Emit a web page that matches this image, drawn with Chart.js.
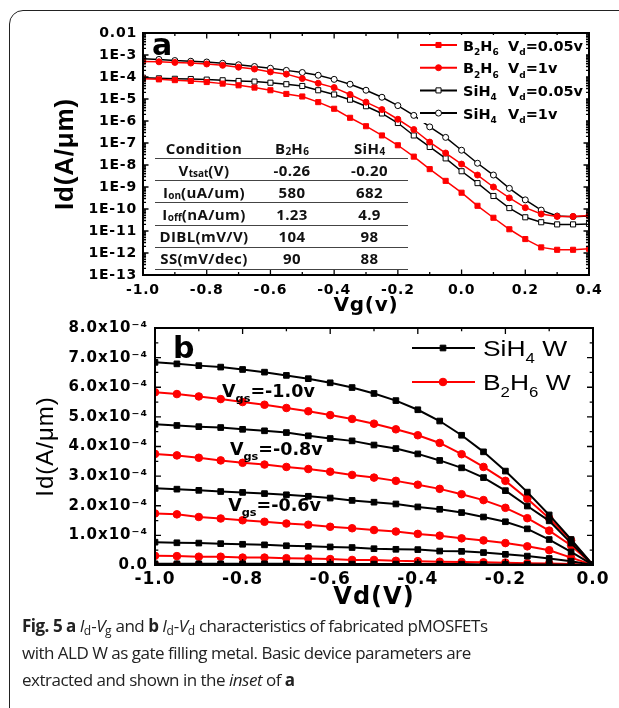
<!DOCTYPE html>
<html>
<head>
<meta charset="utf-8">
<script src="https://cdn.jsdelivr.net/npm/chart.js@4.4.0/dist/chart.umd.min.js"></script>
<style>
    html, body { margin: 0; padding: 0; background: #fff; }
    body { width: 619px; height: 708px; position: relative; overflow: hidden; }
    #marco { position: absolute; left: 9px; top: 10px; width: 700px; height: 800px; border: 1.5px solid #222; border-radius: 14px; }
    canvas { position: absolute; left: 0; }
    #graficoA { top: 0; }
    #graficoB { top: 312px; }
    #tabla { position: absolute; left: 155px; top: 138px; border-collapse: collapse; font-family: "Open Sans"; font-weight: 700; font-size: 15px; letter-spacing: 0.4px; color: #111; }
    #tabla td { padding: 0; height: 21.2px; text-align: center; border-bottom: 1.5px solid #444; line-height: 20px; }
    #tabla tr:first-child td { height: 19.5px; }
    #tabla td.c1 { width: 98px; }
    #tabla td.c2 { width: 78px; }
    #tabla td.c3 { width: 77px; }
    #tabla sub { font-size: 10px; vertical-align: -1px; letter-spacing: 0; line-height: 0; }
    #pie { position: absolute; left: 22px; top: 612px; font-family: "Open Sans"; font-size: 17px; letter-spacing: -0.5px; line-height: 27px; color: #222; white-space: nowrap; }
    #pie sub { font-size: 12px; vertical-align: -3px; line-height: 0; letter-spacing: 0; }
</style>
</head>
<body>
<div id="marco"></div>
<canvas id="graficoA" width="619" height="320"></canvas>
<canvas id="graficoB" width="619" height="303"></canvas>

<table id="tabla">
    <tr><td class="c1">Condition</td><td class="c2">B<sub>2</sub>H<sub>6</sub></td><td class="c3">SiH<sub>4</sub></td></tr>
    <tr><td class="c1">V<sub>tsat</sub>(V)</td><td class="c2">-0.26</td><td class="c3">-0.20</td></tr>
    <tr><td class="c1">I<sub>on</sub>(uA/um)</td><td class="c2">580</td><td class="c3">682</td></tr>
    <tr><td class="c1">I<sub>off</sub>(nA/um)</td><td class="c2">1.23</td><td class="c3">4.9</td></tr>
    <tr><td class="c1">DIBL(mV/V)</td><td class="c2">104</td><td class="c3">98</td></tr>
    <tr><td class="c1">SS(mV/dec)</td><td class="c2">90</td><td class="c3">88</td></tr>
</table>

<div id="pie"><b>Fig. 5</b> <b>a</b> <i>I</i><sub>d</sub>-<i>V</i><sub>g</sub> and <b>b</b> <i>I</i><sub>d</sub>-<i>V</i><sub>d</sub> characteristics of fabricated pMOSFETs<br>with ALD W as gate filling metal. Basic device parameters are<br>extracted and shown in the <i>inset</i> of <b>a</b></div>

<script>
// ---- Datos del grafico a: Id-Vg (A/um, escala log) ----
const vg = [-1.0, -0.95, -0.9, -0.85, -0.8, -0.75, -0.7, -0.65, -0.6, -0.55, -0.5, -0.45, -0.4, -0.35, -0.3,
    -0.25, -0.2, -0.15, -0.1, -0.05, 0.0, 0.05, 0.1, 0.15, 0.2, 0.25, 0.3, 0.35, 0.4];
const idB2H6Vd005 = [8.3e-5, 7.8e-5, 7.2e-5, 6.6e-5, 5.9e-5, 5.0e-5, 4.2e-5, 3.3e-5, 2.5e-5, 1.7e-5, 1.3e-5,
    7.2e-6, 3.6e-6, 1.4e-6, 5.8e-7, 2.2e-7, 7.9e-8, 2.4e-8, 6.5e-9, 1.9e-9, 5.5e-10, 1.4e-10, 4.0e-11,
    1.2e-11, 4.3e-12, 1.8e-12, 1.4e-12, 1.4e-12, 1.55e-12];
const idB2H6Vd1 = [5.1e-4, 4.9e-4, 4.6e-4, 4.3e-4, 3.9e-4, 3.4e-4, 2.8e-4, 2.3e-4, 1.7e-4, 1.35e-4, 8.5e-5,
    5.2e-5, 3.3e-5, 1.6e-5, 7.2e-6, 3.3e-6, 1.2e-6, 4.1e-7, 1.1e-7, 3.5e-8, 1.1e-8, 3.5e-9, 1.0e-9,
    3.2e-10, 1.15e-10, 5.9e-11, 4.6e-11, 4.6e-11, 5.1e-11];
const idSiH4Vd005 = [9.3e-5, 8.7e-5, 8.3e-5, 8.1e-5, 7.6e-5, 7.1e-5, 6.6e-5, 6.2e-5, 5.5e-5, 4.7e-5, 3.9e-5,
    2.5e-5, 1.6e-5, 9.3e-6, 4.7e-6, 2.2e-6, 8.1e-7, 2.2e-7, 6.6e-8, 2.0e-8, 5.2e-9, 1.5e-9, 3.9e-10,
    1.1e-10, 4.2e-11, 2.5e-11, 2.0e-11, 2.0e-11, 2.1e-11];
const idSiH4Vd1 = [6.8e-4, 6.3e-4, 5.6e-4, 5.2e-4, 4.8e-4, 4.2e-4, 3.6e-4, 3.0e-4, 2.5e-4, 2.0e-4, 1.6e-4,
    1.2e-4, 7.8e-5, 4.7e-5, 2.5e-5, 1.2e-5, 5.0e-6, 1.8e-6, 5.4e-7, 1.8e-7, 4.7e-8, 1.2e-8, 3.5e-9,
    8.7e-10, 2.6e-10, 8.9e-11, 4.8e-11, 4.5e-11, 4.8e-11];
const vgTicks = [-1.0, -0.8, -0.6, -0.4, -0.2, 0.0, 0.2, 0.4];
const vgTickLabels = ['-1.0', '-0.8', '-0.6', '-0.4', '-0.2', '0.0', '0.2', '0.4'];
const idTicksA = [1e-2, 1e-3, 1e-4, 1e-5, 1e-6, 1e-7, 1e-8, 1e-9, 1e-10, 1e-11, 1e-12, 1e-13];
const idTickLabelsA = ['0.01', '1E-3', '1E-4', '1E-5', '1E-6', '1E-7', '1E-8', '1E-9', '1E-10', '1E-11', '1E-12', '1E-13'];

// ---- Datos del grafico b: Id-Vd (en unidades de 1e-4 A/um) ----
const vd = [-1.0, -0.95, -0.9, -0.85, -0.8, -0.75, -0.7, -0.65, -0.6, -0.55, -0.5, -0.45, -0.4, -0.35, -0.3,
    -0.25, -0.2, -0.15, -0.1, -0.05, 0.0];
const sih4Vgs10 = [6.84, 6.79, 6.73, 6.68, 6.60, 6.51, 6.40, 6.29, 6.15, 5.99, 5.79, 5.55, 5.24, 4.86, 4.38, 3.82, 3.17, 2.46, 1.69, 0.86, 0];
const sih4Vgs08 = [4.75, 4.71, 4.67, 4.64, 4.58, 4.53, 4.47, 4.36, 4.27, 4.19, 4.05, 3.93, 3.75, 3.53, 3.28, 2.95, 2.51, 1.99, 1.49, 0.74, 0];
const sih4Vgs06 = [2.59, 2.56, 2.52, 2.48, 2.45, 2.41, 2.37, 2.32, 2.26, 2.18, 2.12, 2.06, 1.96, 1.88, 1.77, 1.62, 1.46, 1.22, 0.86, 0.44, 0];
const sih4Vgs04 = [0.77, 0.75, 0.74, 0.72, 0.70, 0.68, 0.65, 0.63, 0.61, 0.59, 0.55, 0.53, 0.52, 0.47, 0.46, 0.42, 0.36, 0.30, 0.22, 0.13, 0];
const sih4Vgs02 = [0.04, 0.04, 0.04, 0.04, 0.04, 0.04, 0.04, 0.03, 0.03, 0.03, 0.03, 0.03, 0.03, 0.03, 0.03, 0.02, 0.02, 0.02, 0.02, 0.01, 0];
const b2h6Vgs10 = [5.83, 5.77, 5.69, 5.60, 5.50, 5.41, 5.30, 5.19, 5.06, 4.93, 4.77, 4.58, 4.38, 4.12, 3.74, 3.31, 2.84, 2.24, 1.58, 0.83, 0];
const b2h6Vgs08 = [3.75, 3.70, 3.62, 3.53, 3.45, 3.39, 3.31, 3.24, 3.15, 3.04, 2.95, 2.84, 2.71, 2.57, 2.39, 2.19, 1.93, 1.58, 1.16, 0.66, 0];
const b2h6Vgs06 = [1.74, 1.71, 1.62, 1.57, 1.51, 1.46, 1.40, 1.36, 1.29, 1.24, 1.18, 1.13, 1.05, 0.99, 0.90, 0.83, 0.74, 0.63, 0.50, 0.25, 0];
const b2h6Vgs04 = [0.31, 0.30, 0.28, 0.28, 0.25, 0.25, 0.23, 0.22, 0.20, 0.17, 0.17, 0.14, 0.13, 0.11, 0.10, 0.09, 0.08, 0.06, 0.05, 0.03, 0];
const b2h6Vgs02 = [0.01, 0.01, 0.01, 0.01, 0.01, 0.01, 0.01, 0.01, 0.01, 0.01, 0.01, 0.01, 0.01, 0.01, 0.01, 0.01, 0.01, 0.01, 0.01, 0.005, 0];
const vdTicks = [-1.0, -0.8, -0.6, -0.4, -0.2, 0.0];
const vdTickLabels = ['-1.0', '-0.8', '-0.6', '-0.4', '-0.2', '0.0'];
const idTicksB = [0, 1, 2, 3, 4, 5, 6, 7, 8];
const idTickLabelsB = ['0.0', '1.0x10⁻⁴', '2.0x10⁻⁴', '3.0x10⁻⁴', '4.0x10⁻⁴', '5.0x10⁻⁴', '6.0x10⁻⁴', '7.0x10⁻⁴', '8.0x10⁻⁴'];
// etiquetas Vgs dentro del grafico b (posicion en unidades de datos)
const etiquetasVgs = [
    { texto: '=-1.0v', x: -0.847, y: 5.66 },
    { texto: '=-0.8v', x: -0.829, y: 3.70 },
    { texto: '=-0.6v', x: -0.833, y: 1.81 }
];

const ROJO = '#ff0000';
const NEGRO = '#000000';
const FUENTE = '"DejaVu Sans"';

Chart.defaults.font.family = FUENTE;
Chart.defaults.color = '#000';

function serie(xs, ys) {
    return xs.map((x, i) => ({ x: x, y: ys[i] }));
}

// Dibuja texto con subindices: partes = [[texto, 'sub'?], ...]
// estira: factor horizontal (las letras del original son anchas)
function textoRico(ctx, partes, x, y, tam, peso, familia, estira) {
    const sx = estira || 1;
    let cx = 0;
    ctx.save();
    ctx.translate(x, y);
    ctx.scale(sx, 1);
    ctx.textAlign = 'left';
    ctx.textBaseline = 'alphabetic';
    ctx.letterSpacing = '0px';
    for (const [t, tipo] of partes) {
        const sub = tipo === 'sub';
        const fs = sub ? Math.round(tam * 0.62) : tam;
        ctx.font = peso + ' ' + fs + 'px ' + (familia || FUENTE);
        ctx.fillText(t, cx, sub ? tam * 0.3 : 0);
        cx += ctx.measureText(t).width;
    }
    ctx.restore();
    return x + cx * sx;
}

function marcador(ctx, ds, x, y) {
    ctx.fillStyle = ds.pointBackgroundColor;
    ctx.strokeStyle = ds.borderColor;
    ctx.lineWidth = ds.pointBorderWidth;
    Chart.helpers.drawPoint(ctx, {
        pointStyle: ds.pointStyle, radius: ds.pointRadius, rotation: 0, borderWidth: ds.pointBorderWidth
    }, x, y);
}

// Letras algo espaciadas en ejes, como en la figura original
const espaciado = {
    id: 'espaciado',
    beforeDraw(chart, args, o) { chart.ctx.letterSpacing = o.valor; },
    beforeDatasetsDraw(chart) { chart.ctx.letterSpacing = '0px'; },
    afterDraw(chart) { chart.ctx.letterSpacing = '0px'; }
};

// Marco del area y marcas hacia dentro en los cuatro lados
const marcoTicks = {
    id: 'marcoTicks',
    afterDatasetsDraw(chart, args, o) {
        const { ctx, chartArea: a, scales } = chart;
        ctx.save();
        ctx.strokeStyle = '#000';
        ctx.lineWidth = 1.3;
        const grupos = [[o.xMayor, o.largo], [o.xMenor, o.largo * 0.55]];
        for (const [lista, len] of grupos) {
            for (const v of lista) {
                const px = scales.x.getPixelForValue(v);
                ctx.beginPath();
                ctx.moveTo(px, a.bottom); ctx.lineTo(px, a.bottom - len);
                ctx.moveTo(px, a.top); ctx.lineTo(px, a.top + len);
                ctx.stroke();
            }
        }
        const gruposY = [[o.yMayor, o.largo], [o.yMenor, o.largo * 0.55]];
        for (const [lista, len] of gruposY) {
            for (const v of lista) {
                const py = scales.y.getPixelForValue(v);
                ctx.beginPath();
                ctx.moveTo(a.left, py); ctx.lineTo(a.left + len, py);
                ctx.moveTo(a.right, py); ctx.lineTo(a.right - len, py);
                ctx.stroke();
            }
        }
        ctx.lineWidth = o.grosor;
        ctx.strokeRect(a.left, a.top, a.right - a.left, a.bottom - a.top);
        // letra del panel
        ctx.fillStyle = '#000';
        ctx.font = 'bold ' + o.letraTam + 'px ' + FUENTE;
        ctx.textAlign = 'left';
        ctx.textBaseline = 'alphabetic';
        ctx.fillText(o.letra, a.left + o.letraX, a.top + o.letraY);
        ctx.restore();
    }
};

// Leyenda del grafico a con subindices
const leyendaA = {
    id: 'leyendaA',
    afterDatasetsDraw(chart) {
        const ctx = chart.ctx;
        ctx.save();
        ctx.fillStyle = '#fff';
        ctx.fillRect(418, 35, 168, 88);
        chart.data.datasets.forEach((ds, i) => {
            const y = 45 + i * 22.7;
            ctx.strokeStyle = ds.borderColor;
            ctx.lineWidth = 2;
            ctx.beginPath();
            ctx.moveTo(420, y); ctx.lineTo(457, y);
            ctx.stroke();
            marcador(ctx, ds, 438.5, y);
            ctx.fillStyle = '#000';
            textoRico(ctx, ds.leyendaGas, 463, y + 5.5, 14.5, 'bold');
            textoRico(ctx, ds.leyendaVd, 508, y + 5.5, 14.5, 'bold');
        });
        ctx.restore();
    }
};

// Leyenda y etiquetas Vgs del grafico b
const leyendaB = {
    id: 'leyendaB',
    afterDatasetsDraw(chart) {
        const ctx = chart.ctx;
        const dss = chart.data.datasets;
        const entradas = [
            { ds: dss[0], partes: [['SiH'], ['4', 'sub'], [' W']] },
            { ds: dss[5], partes: [['B'], ['2', 'sub'], ['H'], ['6', 'sub'], [' W']] }
        ];
        ctx.save();
        entradas.forEach((e, i) => {
            const y = 36 + i * 34;
            ctx.strokeStyle = e.ds.borderColor;
            ctx.lineWidth = 2;
            ctx.beginPath();
            ctx.moveTo(412, y); ctx.lineTo(475, y);
            ctx.stroke();
            marcador(ctx, e.ds, 443, y);
            ctx.fillStyle = '#000';
            textoRico(ctx, e.partes, 483, y + 8, 22, 'normal', '"Liberation Sans"', 1.2);
        });
        const xs = chart.scales.x, ys = chart.scales.y;
        ctx.fillStyle = '#000';
        for (const et of etiquetasVgs) {
            textoRico(ctx, [['V'], ['gs', 'sub'], [et.texto]], xs.getPixelForValue(et.x), ys.getPixelForValue(et.y), 17, 'bold', FUENTE, 1.03);
        }
        ctx.restore();
    }
};

document.addEventListener('DOMContentLoaded', function () {
    // ---- Grafico a: Id-Vg ----
    const estiloA = (color, forma, relleno, radio) => ({
        showLine: true, borderColor: color, borderWidth: 1.5,
        pointStyle: forma, pointRadius: radio, pointBackgroundColor: relleno,
        pointBorderColor: color, pointBorderWidth: 1, pointHoverRadius: radio
    });
    const xMenorA = [];
    for (let v = -0.9; v < 0.4; v += 0.2) xMenorA.push(v);
    const yMenorA = [];
    for (let e = -13; e < -2; e++) for (let k = 2; k <= 9; k++) yMenorA.push(k * Math.pow(10, e));

    new Chart(document.getElementById('graficoA'), {
        type: 'scatter',
        data: {
            datasets: [
                Object.assign({ label: 'B2H6 Vd=0.05v', data: serie(vg, idB2H6Vd005),
                    leyendaGas: [['B'], ['2', 'sub'], ['H'], ['6', 'sub']], leyendaVd: [['V'], ['d', 'sub'], ['=0.05v']] },
                    estiloA(ROJO, 'rect', ROJO, 3.6)),
                Object.assign({ label: 'B2H6 Vd=1v', data: serie(vg, idB2H6Vd1),
                    leyendaGas: [['B'], ['2', 'sub'], ['H'], ['6', 'sub']], leyendaVd: [['V'], ['d', 'sub'], ['=1v']] },
                    estiloA(ROJO, 'circle', ROJO, 3)),
                Object.assign({ label: 'SiH4 Vd=0.05v', data: serie(vg, idSiH4Vd005),
                    leyendaGas: [['SiH'], ['4', 'sub']], leyendaVd: [['V'], ['d', 'sub'], ['=0.05v']] },
                    estiloA(NEGRO, 'rect', '#fff', 3.6)),
                Object.assign({ label: 'SiH4 Vd=1v', data: serie(vg, idSiH4Vd1),
                    leyendaGas: [['SiH'], ['4', 'sub']], leyendaVd: [['V'], ['d', 'sub'], ['=1v']] },
                    estiloA(NEGRO, 'circle', '#fff', 3))
            ]
        },
        options: {
            responsive: false,
            animation: false,
            devicePixelRatio: 1,
            layout: { padding: { top: 33, right: 30, left: 0, bottom: 0 } },
            plugins: {
                legend: { display: false },
                tooltip: { enabled: false },
                espaciado: { valor: '0.8px' },
                marcoTicks: { xMayor: vgTicks, xMenor: xMenorA, yMayor: idTicksA, yMenor: yMenorA,
                    largo: 5.5, grosor: 2, letra: 'a', letraTam: 30, letraX: 9, letraY: 22 }
            },
            scales: {
                x: {
                    type: 'linear', min: -1.0, max: 0.4,
                    grid: { display: false, drawTicks: false },
                    border: { display: false },
                    afterBuildTicks: (s) => { s.ticks = vgTicks.map(v => ({ value: v })); },
                    afterFit: (s) => { s.height = 45; },
                    ticks: { autoSkip: false, maxRotation: 0, padding: 7,
                        font: { size: 14, weight: 'bold' },
                        callback: (v, i) => vgTickLabels[i] },
                    title: { display: true, text: 'Vg(v)', font: { size: 20, weight: 'bold' },
                        padding: { top: 0, bottom: 2 } }
                },
                y: {
                    type: 'logarithmic', min: 1e-13, max: 1e-2,
                    grid: { display: false, drawTicks: false },
                    border: { display: false },
                    afterBuildTicks: (s) => { s.ticks = idTicksA.map(v => ({ value: v })); },
                    afterFit: (s) => { s.width = 143; },
                    ticks: { autoSkip: false, padding: 6,
                        font: { size: 14, weight: 'bold' },
                        callback: (v, i) => idTickLabelsA[i] },
                    title: { display: true, text: 'Id(A/μm)', font: { size: 26, weight: 'bold', family: '"Liberation Sans"' },
                        padding: { top: 50, bottom: 0 } }
                }
            }
        },
        plugins: [espaciado, marcoTicks, leyendaA]
    });

    // ---- Grafico b: Id-Vd ----
    const estiloB = (color, forma, radio) => ({
        showLine: true, borderColor: color, borderWidth: 2,
        pointStyle: forma, pointRadius: radio, pointBackgroundColor: color,
        pointBorderColor: color, pointBorderWidth: 1, pointHoverRadius: radio
    });
    const negras = [sih4Vgs10, sih4Vgs08, sih4Vgs06, sih4Vgs04, sih4Vgs02];
    const rojas = [b2h6Vgs10, b2h6Vgs08, b2h6Vgs06, b2h6Vgs04, b2h6Vgs02];
    const xMenorB = [-0.9, -0.7, -0.5, -0.3, -0.1];
    const yMenorB = [0.5, 1.5, 2.5, 3.5, 4.5, 5.5, 6.5, 7.5];

    new Chart(document.getElementById('graficoB'), {
        type: 'scatter',
        data: {
            datasets: negras.map(d => Object.assign({ label: 'SiH4 W', data: serie(vd, d) }, estiloB(NEGRO, 'rect', 4)))
                .concat(rojas.map(d => Object.assign({ label: 'B2H6 W', data: serie(vd, d) }, estiloB(ROJO, 'circle', 3.8))))
        },
        options: {
            responsive: false,
            animation: false,
            devicePixelRatio: 1,
            layout: { padding: { top: 10, right: 26, left: 0, bottom: 0 } },
            plugins: {
                legend: { display: false },
                tooltip: { enabled: false },
                espaciado: { valor: '1px' },
                marcoTicks: { xMayor: vdTicks, xMenor: xMenorB, yMayor: idTicksB, yMenor: yMenorB,
                    largo: 6, grosor: 2, letra: 'b', letraTam: 30, letraX: 18, letraY: 30 }
            },
            scales: {
                x: {
                    type: 'linear', min: -1.0, max: 0.0,
                    grid: { display: false, drawTicks: false },
                    border: { display: false },
                    afterBuildTicks: (s) => { s.ticks = vdTicks.map(v => ({ value: v })); },
                    afterFit: (s) => { s.height = 50; },
                    ticks: { autoSkip: false, maxRotation: 0, padding: 4,
                        font: { size: 17, weight: 'bold' },
                        callback: (v, i) => vdTickLabels[i] },
                    title: { display: true, text: 'Vd(V)', font: { size: 24, weight: 'bold' },
                        padding: { top: 0, bottom: 3 } }
                },
                y: {
                    type: 'linear', min: 0, max: 8,
                    grid: { display: false, drawTicks: false },
                    border: { display: false },
                    afterBuildTicks: (s) => { s.ticks = idTicksB.map(v => ({ value: v })); },
                    afterFit: (s) => { s.width = 155; },
                    ticks: { autoSkip: false, padding: 7,
                        font: { size: 15, weight: 'bold' },
                        callback: (v, i) => idTickLabelsB[i] },
                    title: { display: true, text: 'Id(A/μm)', font: { size: 24, weight: 'normal', family: '"Liberation Sans"' },
                        padding: { top: 32, bottom: 0 } }
                }
            }
        },
        plugins: [espaciado, marcoTicks, leyendaB]
    });
});
</script>
</body>
</html>
